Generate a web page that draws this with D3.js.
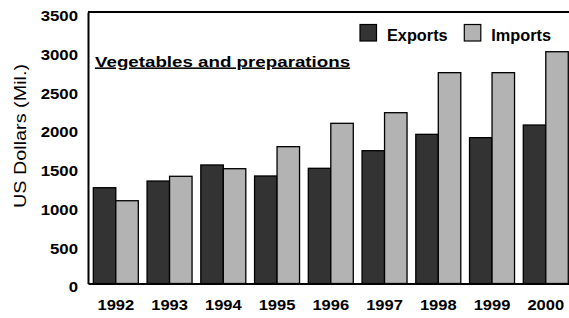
<!DOCTYPE html>
<html>
<head>
<meta charset="utf-8">
<script src="https://cdn.jsdelivr.net/npm/d3@7"></script>
<style>
  html, body { margin: 0; padding: 0; background: #fff; }
  svg text { font-family: "Liberation Sans", Arial, sans-serif; }
</style>
</head>
<body>
<div id="chart"></div>
<script>
const years = ["1992", "1993", "1994", "1995", "1996", "1997", "1998", "1999", "2000"];
const exportsVals = [1235, 1321, 1528, 1386, 1485, 1712, 1923, 1880, 2043];
const importsVals = [1067, 1382, 1480, 1764, 2065, 2202, 2718, 2718, 2988];
const seriesNames = ["Exports", "Imports"];
const yTicks = [0, 500, 1000, 1500, 2000, 2500, 3000, 3500];

const colors = { "Exports": "#333333", "Imports": "#b3b3b3" };

const W = 569, H = 318;
const plotLeft = 88, plotTop = 12, plotBottom = 283.5, plotRight = 573.6;

const svg = d3.select("#chart").append("svg")
    .attr("width", W)
    .attr("height", H);

// the reference text is a bit wider than Arial, so stretch it
function stretch(sel, k) {
    sel.each(function() {
        const t = d3.select(this);
        const x = +t.attr("x") || 0;
        const y = +t.attr("y") || 0;
        t.attr("x", 0).attr("y", 0)
         .attr("transform", `translate(${x},${y}) scale(${k},1)`);
    });
}

const x0 = d3.scaleBand()
    .domain(years)
    .range([plotLeft, plotRight])
    .paddingInner(0.163)
    .paddingOuter(0.099);

const x1 = d3.scaleBand()
    .domain(seriesNames)
    .range([0, x0.bandwidth()]);

const y = d3.scaleLinear()
    .domain([0, 3500])
    .range([plotBottom, plotTop]);

const data = years.map((yr, i) => ({ year: yr, Exports: exportsVals[i], Imports: importsVals[i] }));

// top border
svg.append("line")
    .attr("x1", plotLeft).attr("x2", W)
    .attr("y1", plotTop).attr("y2", plotTop)
    .attr("stroke", "#000").attr("stroke-width", 2);

// bars
svg.append("g").selectAll("g")
    .data(data)
    .enter().append("g")
    .attr("transform", d => `translate(${x0(d.year)},0)`)
    .selectAll("rect")
    .data(d => seriesNames.map(k => ({ key: k, value: d[k] })))
    .enter().append("rect")
    .attr("x", d => x1(d.key))
    .attr("y", d => y(d.value))
    .attr("width", x1.bandwidth())
    .attr("height", d => plotBottom - y(d.value))
    .attr("fill", d => colors[d.key])
    .attr("stroke", "#000")
    .attr("stroke-width", 1.3);

// y axis
const gy = svg.append("g")
    .attr("transform", `translate(${plotLeft},0)`)
    .call(d3.axisLeft(y).tickValues(yTicks).tickSize(0).tickPadding(10).tickFormat(d3.format("d")));
gy.select(".domain").attr("stroke", "#000").attr("stroke-width", 2);
gy.selectAll("text")
    .attr("font-size", 14).attr("font-weight", "bold").attr("fill", "#000")
    .attr("y", 4);
stretch(gy.selectAll("text"), 1.2);

// x axis
const gx = svg.append("g")
    .attr("transform", `translate(0,${plotBottom})`)
    .call(d3.axisBottom(x0).tickSize(0).tickPadding(16.5));
gx.select(".domain").attr("stroke", "#000").attr("stroke-width", 2);
gx.selectAll("text")
    .attr("font-size", 14).attr("font-weight", "bold").attr("fill", "#000");
stretch(gx.selectAll("text"), 1.18);

// y label
svg.append("text")
    .attr("transform", `translate(26,136) rotate(-90) scale(1.2,1)`)
    .attr("text-anchor", "middle")
    .attr("font-size", 16.5)
    .text("US Dollars (Mil.)");

// title
svg.append("text")
    .attr("transform", `translate(95,66.5) scale(1.21,1)`)
    .attr("font-size", 15.5)
    .attr("font-weight", "bold")
    .attr("text-decoration", "underline")
    .text("Vegetables and preparations");

// legend
const legendX = [360, 464.3];
const legend = svg.append("g").selectAll("g")
    .data(seriesNames)
    .enter().append("g")
    .attr("transform", (d, i) => `translate(${legendX[i]},24.5)`);
legend.append("rect")
    .attr("width", 16.5).attr("height", 16.5)
    .attr("fill", d => colors[d])
    .attr("stroke", "#000").attr("stroke-width", 1.2);
legend.append("text")
    .attr("x", 27).attr("y", 16)
    .attr("font-size", 16.3)
    .attr("font-weight", "bold")
    .text(d => d);
</script>
</body>
</html>
